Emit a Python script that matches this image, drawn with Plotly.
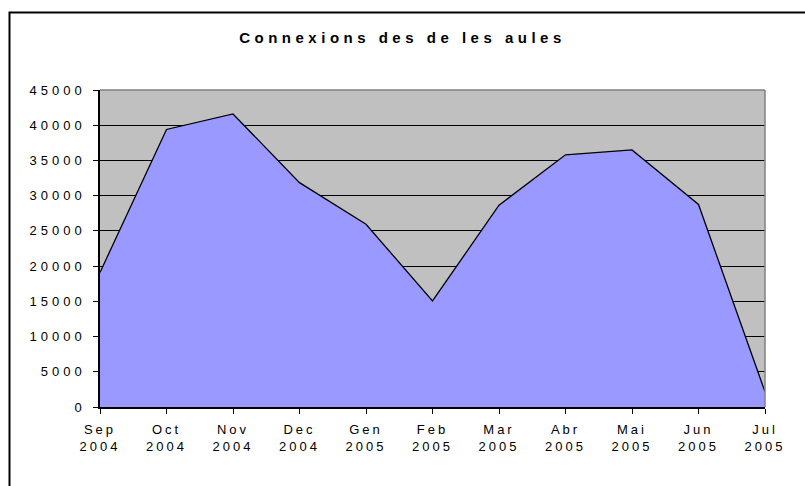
import plotly.graph_objects as go

months = ["Sep<br>2004", "Oct<br>2004", "Nov<br>2004", "Dec<br>2004", "Gen<br>2005", "Feb<br>2005",
          "Mar<br>2005", "Abr<br>2005", "Mai<br>2005", "Jun<br>2005", "Jul<br>2005"]
connexions = [19100, 39400, 41600, 31850, 25950, 15050, 28650, 35800, 36500, 28750, 2150]
y_ticks = [0, 5000, 10000, 15000, 20000, 25000, 30000, 35000, 40000, 45000]
title_text = "Connexions des de les aules"

x_idx = list(range(len(months)))

fig = go.Figure()
fig.add_trace(go.Scatter(
    x=x_idx, y=connexions, mode="lines", fill="tozeroy",
    fillcolor="#9999FF", line=dict(color="black", width=1.3),
    hoverinfo="y",
))

W, H = 805, 486
L, R, T, B = 100, 765, 89.5, 407
pw, ph = R - L, B - T

def px_x(p):
    return (p - L) / pw

def px_y(p):
    return (B - p) / ph

shapes = [
    # outer frame (extends past image edges)
    dict(type="rect", xref="paper", yref="paper",
         x0=px_x(9.5), x1=px_x(830), y0=px_y(520), y1=px_y(12),
         line=dict(color="black", width=2), fillcolor="rgba(0,0,0,0)", layer="above"),
    # plot area top and right border
    dict(type="line", xref="paper", yref="paper", x0=0, x1=1, y0=1, y1=1,
         line=dict(color="#808080", width=1.5), layer="above"),
    dict(type="line", xref="paper", yref="paper", x0=1, x1=1, y0=0, y1=1,
         line=dict(color="#808080", width=1.5), layer="above"),
]

fig.update_layout(
    width=W, height=H,
    margin=dict(l=L, r=W - R, t=T, b=H - B, pad=0),
    paper_bgcolor="white", plot_bgcolor="#C0C0C0",
    showlegend=False,
    title=dict(text="<b>" + title_text + "</b>", x=0.5, xref="container", xanchor="center",
               y=1 - 38 / H, yref="container", yanchor="middle",
               font=dict(family="Arial, Liberation Sans, sans-serif", size=15, color="black")),
    font=dict(family="Arial, Liberation Sans, sans-serif", size=13, color="black"),
    shapes=shapes,
)
fig.update_xaxes(
    range=[0, 10], tickmode="array", tickvals=x_idx, ticktext=months,
    showgrid=False, showline=True, linecolor="black", linewidth=2,
    ticks="outside", ticklen=5, tickcolor="black", tickwidth=1,
    zeroline=False, fixedrange=True, ticklabelstandoff=4,
)
fig.update_yaxes(
    range=[0, 45000], tickmode="array", tickvals=y_ticks, ticktext=[str(v) for v in y_ticks],
    showgrid=True, gridcolor="black", gridwidth=1,
    showline=True, linecolor="black", linewidth=1.5,
    ticks="outside", ticklen=5, tickcolor="black", tickwidth=1,
    zeroline=False, fixedrange=True, ticklabelstandoff=5,
)

css = """
var s = document.createElement('style');
s.innerHTML = 'body { margin: 0; } .xtick text { letter-spacing: 3px; } .ytick text { letter-spacing: 4px; } .gtitle { letter-spacing: 4.5px; }';
document.head.appendChild(s);
"""
fig.write_html("out.html", post_script=css, config={"displayModeBar": False})
